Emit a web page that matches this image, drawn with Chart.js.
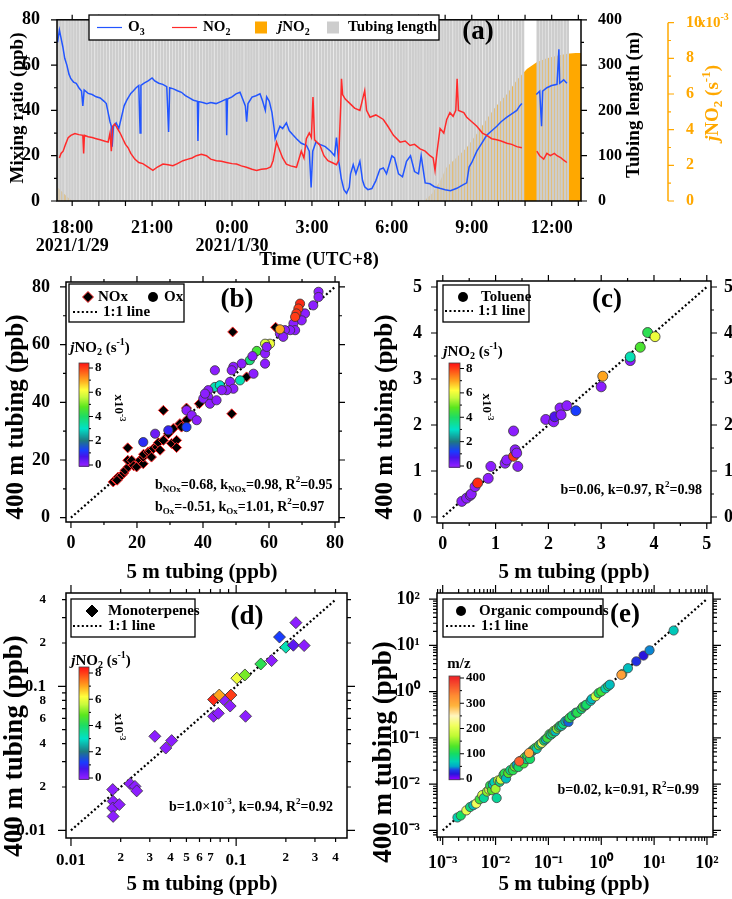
<!DOCTYPE html>
<html><head><meta charset="utf-8">
<script src="https://cdn.jsdelivr.net/npm/chart.js@4.4.1/dist/chart.umd.min.js"></script>
<style>
html,body{margin:0;padding:0;background:#fff;}
#wrap{position:relative;width:732px;height:899px;overflow:hidden;background:#fff;}
#wrap canvas{position:absolute;left:0;top:0;}
</style></head><body>
<div id="wrap">
<canvas id="pa" width="732" height="899"></canvas>
<canvas id="pb" width="732" height="899"></canvas>
<canvas id="pc" width="732" height="899"></canvas>
<canvas id="pd" width="732" height="899"></canvas>
<canvas id="pe" width="732" height="899"></canvas>
</div>
<script>
// ================= DATA =================
// Panel (a): time in hours from 0:00 on 2021/1/29 (24 = 0:00 on 1/30)
const hourTicks = [18,19,20,21,22,23,24,25,26,27,28,29,30,31,32,33,34,35,36,37];
const timeTicks = [18,21,24,27,30,33,36];
const timeLabels = [['18:00','2021/1/29'],'21:00',['0:00','2021/1/30'],'3:00','6:00','9:00','12:00'];
const o3Data = [[17.45,70],[17.52,75.5],[17.58,72],[17.65,68],[17.72,63],[17.80,60],[17.88,56],[17.95,54],[18.05,52.5],[18.15,52],
[18.25,50],[18.35,48.5],[18.40,42],[18.45,49],[18.60,47.5],[18.75,47],[18.90,46],[19.05,45.5],[19.20,44],[19.28,43],
[19.35,39],[19.42,35],[19.47,33],[19.50,24],[19.55,33],[19.65,34.5],[19.75,32],[19.85,37],[19.95,42],[20.05,44.5],
[20.20,47.5],[20.30,48.7],[20.40,50],[20.50,51],[20.55,30],[20.58,51],[20.70,52],[20.85,53],[21.00,54.3],[21.10,53],
[21.25,52],[21.40,51.5],[21.55,50.5],[21.62,30.5],[21.66,50],[21.80,49.5],[21.95,48.7],[22.10,48],[22.25,46.5],[22.40,45.5],
[22.55,44.5],[22.70,44],[22.72,26.5],[22.75,43.9],[22.90,43.5],[23.05,43],[23.20,43.5],[23.40,43],[23.60,44],[23.78,45],
[23.80,29],[23.83,45],[24.00,46],[24.15,47.3],[24.30,48],[24.40,45],[24.50,42],[24.55,35],[24.60,43],[24.75,45.9],
[24.90,46.5],[25.05,47.3],[25.15,44],[25.25,40],[25.30,46],[25.40,44],[25.50,39],[25.58,32],[25.62,27.5],[25.70,30],
[25.80,33],[25.90,32],[26.04,34.5],[26.15,31],[26.30,29],[26.42,27.5],[26.60,25.5],[26.79,24.6],[26.90,22],[26.97,6],
[27.03,22],[27.15,26],[27.30,25],[27.50,24],[27.70,22],[27.85,20],[27.92,28],[28.00,18],[28.10,10],[28.20,5],
[28.30,3.4],[28.40,6],[28.45,12],[28.55,16],[28.65,12],[28.80,17.5],[28.90,9],[28.98,6.3],[29.10,5],[29.25,5.5],
[29.40,9],[29.55,14],[29.68,14.6],[29.80,12],[30.00,20],[30.10,19],[30.25,12],[30.40,10.7],[30.55,17.5],[30.70,20],
[30.85,13],[31.00,12],[31.10,20],[31.25,8],[31.43,7.6],[31.60,6.3],[31.80,5.6],[32.00,5],[32.20,4.5],[32.44,5.6],
[32.65,7],[32.81,8],[32.90,15],[33.00,17],[33.19,22],[33.35,25],[33.56,29],[33.75,31],[33.94,33],[34.10,35],
[34.32,37],[34.50,38.5],[34.69,40],[34.80,42],[34.88,43],[35.10,null],[35.42,47],[35.55,48.5],[35.62,33],[35.66,48.5],
[35.82,50],[36.00,51],[36.20,51.5],[36.27,67],[36.30,52],[36.45,53.5],[36.57,52]];
const no2Data = [[17.52,19],[17.58,21],[17.66,22],[17.75,25],[17.85,28],[17.95,29],[18.10,29.8],[18.25,29.3],[18.40,29],[18.43,21],
[18.46,29],[18.60,28.4],[18.75,28],[18.90,27.5],[19.05,27],[19.20,26.5],[19.35,26],[19.42,30],[19.47,22],[19.52,33],
[19.60,34],[19.70,32],[19.80,30],[19.90,27.5],[20.00,25],[20.10,23.5],[20.20,21],[20.35,18.5],[20.50,17],[20.65,16.5],
[20.85,15],[21.03,13.5],[21.20,15],[21.41,16.3],[21.60,16],[21.78,15.6],[21.95,16.5],[22.16,17.8],[22.35,18.5],[22.50,19],
[22.66,20],[22.85,20.6],[23.04,20],[23.20,18.5],[23.41,17.8],[23.60,17.5],[23.79,17],[24.00,16.5],[24.17,16.3],[24.35,15.5],
[24.54,14.9],[24.75,14],[24.92,13.5],[25.10,14],[25.29,14.2],[25.45,15],[25.54,17.8],[25.67,26],[25.75,23.5],[25.90,19],
[26.04,16.3],[26.20,15.5],[26.42,14.9],[26.55,20],[26.60,22],[26.70,19],[26.79,27.5],[26.90,30],[26.98,28],[27.04,45.9],
[27.10,27],[27.30,24.6],[27.45,20],[27.60,17.8],[27.75,17],[27.92,16],[28.00,18],[28.08,42],[28.11,54],[28.15,47],
[28.25,45],[28.43,43],[28.60,41],[28.80,40],[28.98,48.7],[29.05,40],[29.18,37],[29.40,38],[29.68,36],[29.85,33],
[30.06,29],[30.31,26],[30.50,26.5],[30.68,24.5],[30.85,25],[31.06,23],[31.25,22],[31.43,20],[31.55,19],[31.62,13.5],
[31.70,22],[31.81,32],[31.95,30],[32.06,36],[32.18,39],[32.30,37.4],[32.40,40],[32.45,54],[32.50,40],[32.70,39],
[32.81,37],[33.00,35],[33.19,33],[33.40,30],[33.56,29],[33.75,27.5],[33.94,27],[34.10,26.5],[34.32,25.5],[34.50,25],
[34.69,24],[34.88,23.5],[35.10,null],[35.44,22],[35.55,20],[35.70,18.5],[35.82,21],[35.95,20],[36.10,21],[36.20,20],
[36.35,19],[36.45,18],[36.57,17]];
// jNO2 in units of 1e-3 s^-1
const jNO2Data = [[17.43,0.8],[17.6,0.55],[17.8,0.25],[18.0,0],[31.2,0],[31.5,0.4],[31.8,1.1],[32.06,1.9],[32.4,2.4],[32.81,3.0],
[33.2,3.8],[33.56,4.6],[33.9,5.3],[34.32,6.0],[34.7,6.8],[35.07,7.4],[35.45,7.8],[35.82,8.0],[36.2,8.15],[36.57,8.25],[36.9,8.3],[37.1,8.3]];
// start times of the 400 m tubing sampling periods
const tubingTime = [17.45,17.56,17.67,17.79,17.90,18.01,18.12,18.23,18.35,18.46,18.57,18.68,18.79,18.91,19.02,19.13,19.24,19.35,19.47,19.58,
19.69,19.80,19.91,20.03,20.14,20.25,20.36,20.47,20.59,20.70,20.81,20.92,21.03,21.15,21.26,21.37,21.48,21.59,21.71,21.82,
21.93,22.04,22.15,22.27,22.38,22.49,22.60,22.71,22.83,22.94,23.05,23.16,23.27,23.39,23.50,23.61,23.72,23.83,23.95,24.06,
24.17,24.28,24.39,24.51,24.62,24.73,24.84,24.95,25.07,25.18,25.29,25.40,25.51,25.63,25.74,25.85,25.96,26.07,26.19,26.30,
26.41,26.52,26.63,26.75,26.86,26.97,27.08,27.19,27.31,27.42,27.53,27.64,27.75,27.87,27.98,28.09,28.20,28.31,28.43,28.54,
28.65,28.76,28.87,28.99,29.10,29.21,29.32,29.43,29.55,29.66,29.77,29.88,29.99,30.11,30.22,30.33,30.44,30.55,30.67,30.78,
30.89,31.00,31.11,31.23,31.34,31.45,31.56,31.67,31.79,31.90,32.01,32.12,32.23,32.35,32.46,32.57,32.68,32.79,32.91,33.02,
33.13,33.24,33.35,33.47,33.58,33.69,33.80,33.91,34.03,34.14,34.25,34.36,34.47,34.59,34.70,34.81,34.92,35.48,35.59,35.70,
35.81,35.93,36.04,36.15,36.26,36.37,36.49,36.60];
const tubingLength = 400;

// Panel (b): [5 m, 400 m] ppb ; Ox also jNO2 (1e-3 s^-1)
const noxData = [[12.8,12.4],[13.5,13.2],[14.3,14.1],[14,13],[15.4,14.7],[16,15.5],[16.4,16.4],[17.4,17.6],[18.4,18.7],[17.2,19.9],
[18.4,19.9],[17.2,24.2],[19,18],[19.9,17.6],[20.9,19.9],[21.9,18.7],[21.9,21],[22,22],[23.4,22.8],[24,23],[24.4,21],[25,24],
[26,24.5],[26.5,26],[27,23.4],[28,26.8],[28,37.2],[29.5,29.1],[30.5,25.7],[31,30.9],[32,26.8],[32,24.3],[33,32.6],[33.5,31.4],
[35,33.8],[35,38],[38.9,39.5],[48.7,36],[49,64.4],[53.2,48.8],[62,66]];
const oxData = [[75,78.3,0],[75,76.5,0],[73.4,73.6,0],[70.9,70.8,0],[69.9,68.4,0],[67.4,67.3,0],[67.9,65,0],[66.4,65,0],[64.8,65,0],
[63.3,63.8,0],[64.3,62.7,0],[69.4,74.2,8.2],[68.9,72.5,8.0],[68.3,70.8,8.1],[67.9,69.6,8.0],[63.3,65.3,7.0],[60.3,60.3,6.0],
[58.8,60.3,5.8],[56.3,57.8,4.5],[54.2,54.6,3.8],[55.3,49.9,0],[58.8,53.4,0],[58.8,56.9,0],[59.3,59.2,0],[55,56,0],[51.7,53.4,0],
[49.2,52.3,0],[48.7,51.1,0],[48.2,47.1,0],[49.2,44.7,0],[43.6,51.1,0],[51.2,47.6,3.2],[43.6,45.3,3.2],[45.1,45.9,3.0],[47.2,44.2,0],
[45.7,44.2,0],[41.6,44.2,0],[41.6,41.8,0],[40.1,41.3,0],[42.1,39.5,0],[44.1,40.7,0],[40.6,43,0],[35,37.2,0],[36.6,35.5,0],
[38.1,33.8,0],[35,31.4,1.2],[29.5,30.3,0.9],[25.5,29.1,0.3],[21.9,26.2,1.0]];
// Panel (c): toluene [5 m, 400 m, jNO2]
const tolueneData = [[0.36,0.34,0],[0.45,0.41,0],[0.52,0.47,0],[0.54,0.50,0],[0.61,0.66,0],[0.66,0.74,8.2],[0.86,0.84,0],[0.91,1.1,0],
[1.18,1.17,0],[1.21,1.24,0],[1.34,1.32,8.1],[1.37,1.46,0],[1.40,1.39,0],[1.34,1.87,0],[1.42,1.10,0],[1.95,2.12,0],[2.10,2.07,0],
[2.12,2.18,0.6],[2.22,2.37,0],[2.24,2.22,0],[2.35,2.42,0],[2.52,2.31,1.2],[3.0,2.83,0],[3.03,3.06,7.0],[3.55,3.40,0],[3.55,3.48,3.2],
[3.74,3.69,4.6],[3.88,4.01,4.2],[4.02,3.92,6.0]];
// Panel (d): monoterpenes [5 m, 400 m, jNO2]
const monoData = [[0.0179,0.0192,0],[0.018,0.0159,0],[0.0179,0.0143,0],[0.018,0.0125,0],[0.0196,0.0151,0],[0.0228,0.0211,0],
[0.0244,0.0202,0],[0.025,0.0188,0],[0.0322,0.045,0],[0.0375,0.0373,0],[0.0407,0.042,0],[0.073,0.062,0],[0.078,0.065,0],
[0.084,0.081,0],[0.092,0.073,0],[0.114,0.062,0],[0.073,0.081,8.2],[0.079,0.087,7.0],[0.093,0.087,8.0],[0.101,0.114,6.0],
[0.113,0.120,5.0],[0.141,0.143,4.2],[0.164,0.151,0],[0.183,0.22,1.2],[0.20,0.187,3.2],[0.222,0.193,0.5],[0.23,0.277,0],[0.258,0.192,0]];
// Panel (e): organic compounds [5 m, 400 m, m/z]
const organicData = [[0.0019,0.0019,70],[0.0022,0.0021,100],[0.0028,0.0027,200],[0.0033,0.0032,90],[0.0038,0.0035,60],[0.0043,0.0038,210],
[0.0050,0.0047,120],[0.0056,0.0058,190],[0.0060,0.0050,80],[0.0069,0.0069,150],[0.0076,0.0076,200],[0.0079,0.0093,110],[0.0085,0.0074,130],
[0.0089,0.0098,60],[0.0095,0.011,70],[0.010,0.0079,160],[0.0105,0.0050,80],[0.0112,0.012,170],[0.012,0.0112,90],[0.0126,0.0126,180],
[0.0141,0.0158,100],[0.0148,0.017,110],[0.0158,0.0132,60],[0.0174,0.0174,130],[0.019,0.020,90],[0.0214,0.020,110],[0.023,0.024,140],
[0.025,0.026,50],[0.027,0.0234,100],[0.030,0.032,90],[0.032,0.033,70],[0.034,0.028,120],[0.036,0.038,150],[0.038,0.035,80],
[0.040,0.042,110],[0.045,0.035,100],[0.048,0.050,60],[0.050,0.054,100],[0.054,0.056,130],[0.056,0.060,110],[0.060,0.058,70],
[0.066,0.069,140],[0.071,0.074,90],[0.076,0.078,210],[0.083,0.087,100],[0.089,0.093,60],[0.095,0.10,120],[0.105,0.12,110],
[0.112,0.117,80],[0.12,0.126,100],[0.126,0.141,130],[0.135,0.138,60],[0.145,0.158,150],[0.158,0.17,110],[0.166,0.182,100],
[0.178,0.182,70],[0.19,0.20,90],[0.21,0.23,60],[0.23,0.24,50],[0.24,0.22,40],[0.25,0.27,110],[0.28,0.30,100],[0.33,0.35,60],
[0.35,0.35,110],[0.42,0.42,90],[0.45,0.47,120],[0.50,0.50,60],[0.52,0.52,100],[0.63,0.63,70],[0.66,0.69,60],[0.78,0.79,180],
[0.89,0.93,100],[1.0,1.0,120],[1.2,1.17,70],[1.35,1.32,90],[1.45,1.41,60],[2.5,2.4,110],[3.2,3.2,60],[4.6,4.5,30],[6.3,6.0,20],
[8.2,7.8,45],[23.4,20.9,65],[0.028,0.031,360],[0.043,0.047,300],[2.4,2.3,310]];
const oneToOneB = [0, 80], oneToOneC = [0, 5], oneToOneD = [0.01, 0.4], oneToOneE = [0.001, 100];

// ================= STYLE / HELPERS =================
const W = 732, H = 899;
const FONT = '"Liberation Serif","Times New Roman",Times,serif';
const ORANGE = '#ffa800';
const jStops = [[0,[140,30,255]],[0.7,[70,20,235]],[1.2,[25,60,255]],[2.0,[30,120,130]],[3.0,[0,225,200]],[4.0,[30,220,100]],
  [4.8,[90,230,30]],[5.6,[200,250,60]],[6.2,[255,255,60]],[7.0,[255,165,30]],[8.4,[255,20,20]]];
const mzStops = [[0,[140,0,255]],[20,[40,20,220]],[35,[30,60,230]],[50,[0,170,200]],[70,[0,210,180]],[100,[20,220,100]],
  [130,[80,230,40]],[170,[190,250,50]],[210,[240,255,90]],[250,[255,245,190]],[290,[255,180,60]],[330,[255,140,50]],[400,[240,40,40]]];
function cmap(stops, v) {
  const rgb = c => `rgb(${c.map(Math.round).join(',')})`;
  if (v <= stops[0][0]) return rgb(stops[0][1]);
  for (let i = 1; i < stops.length; i++) {
    if (v <= stops[i][0]) {
      const [a, ca] = stops[i-1], [b, cb] = stops[i]; const t = (v - a) / (b - a);
      return rgb(ca.map((c, k) => c + (cb[k] - c) * t));
    }
  }
  return rgb(stops[stops.length-1][1]);
}
function fnt(size, italic) { return `${italic ? 'italic ' : ''}bold ${size}px ${FONT}`; }
function rich(ctx, x, y, parts, size, align, color) {
  ctx.save();
  ctx.fillStyle = color || '#000'; ctx.textBaseline = 'middle'; ctx.textAlign = 'left';
  const segs = parts.map(p => {
    const a = typeof p === 'string' ? [p, ''] : p; const m = a[1] || '';
    const small = m === 'sub' || m === 'sup';
    const font = fnt(small ? Math.round(size * 0.66) : size, m === 'i');
    ctx.font = font;
    const dy = m === 'sub' ? size * 0.3 : m === 'sup' ? -size * 0.36 : 0;
    return { t: a[0], font, dy, w: ctx.measureText(a[0]).width };
  });
  const total = segs.reduce((s, g) => s + g.w, 0);
  let cx = align === 'center' ? x - total / 2 : align === 'right' ? x - total : x;
  for (const g of segs) { ctx.font = g.font; ctx.fillText(g.t, cx, y + g.dy); cx += g.w; }
  ctx.restore();
  return total;
}
function richRot(ctx, x, y, ang, parts, size, color) {
  ctx.save(); ctx.translate(x, y); ctx.rotate(ang); rich(ctx, 0, 0, parts, size, 'center', color); ctx.restore();
}
function ticksOn(ctx, scale, vals, len, side, pos) {
  ctx.beginPath();
  for (const v of vals) {
    const p = scale.getPixelForValue(v);
    if (side === 'left') { ctx.moveTo(pos, p); ctx.lineTo(pos - len, p); }
    else if (side === 'right') { ctx.moveTo(pos, p); ctx.lineTo(pos + len, p); }
    else if (side === 'top') { ctx.moveTo(p, pos); ctx.lineTo(p, pos - len); }
    else { ctx.moveTo(p, pos); ctx.lineTo(p, pos + len); }
  }
  ctx.stroke();
}
function diamond(ctx, x, y, r, fill, stroke) {
  ctx.beginPath(); ctx.moveTo(x - r, y); ctx.lineTo(x, y - r); ctx.lineTo(x + r, y); ctx.lineTo(x, y + r); ctx.closePath();
  ctx.fillStyle = fill; ctx.fill(); ctx.lineWidth = 1; ctx.strokeStyle = stroke; ctx.stroke();
}
function dot(ctx, x, y, r) { ctx.beginPath(); ctx.arc(x, y, r, 0, Math.PI * 2); ctx.fillStyle = '#000'; ctx.fill(); }
function dotted(ctx, x0, x1, y) {
  ctx.save(); ctx.setLineDash([2, 2.4]); ctx.lineWidth = 2.2; ctx.strokeStyle = '#000';
  ctx.beginPath(); ctx.moveTo(x0, y); ctx.lineTo(x1, y); ctx.stroke(); ctx.restore();
}
function legendBox(ctx, x, y, w, h) { ctx.save(); ctx.lineWidth = 1.3; ctx.strokeStyle = '#000'; ctx.strokeRect(x, y, w, h); ctx.restore(); }
function colorbar(ctx, cb, stops) {
  const py = v => cb.p0 + (v - cb.v0) * (cb.p1 - cb.p0) / (cb.v1 - cb.v0);
  const yTop = py(cb.hi), yBot = py(cb.lo);
  for (let y = Math.floor(yTop); y < yBot; y++) {
    const v = cb.v0 + (y + 0.5 - cb.p0) * (cb.v1 - cb.v0) / (cb.p1 - cb.p0);
    ctx.fillStyle = cmap(stops, v); ctx.fillRect(cb.x0, y, cb.x1 - cb.x0, 1);
  }
  ctx.save();
  ctx.strokeStyle = '#444'; ctx.lineWidth = 0.8; ctx.strokeRect(cb.x0, Math.floor(yTop), cb.x1 - cb.x0, yBot - Math.floor(yTop));
  ctx.strokeStyle = '#000'; ctx.lineWidth = 1;
  ctx.beginPath();
  for (const v of cb.major) { ctx.moveTo(cb.x1, py(v)); ctx.lineTo(cb.x1 + 4, py(v)); }
  for (const v of cb.minor) { ctx.moveTo(cb.x1, py(v)); ctx.lineTo(cb.x1 + 2, py(v)); }
  ctx.stroke();
  for (const v of cb.major) rich(ctx, cb.x1 + 6, py(v), [String(v)], 13, 'left');
  ctx.restore();
}
function jTitle() { return [['j','i'],'NO',['2','sub'],' (s',['-1','sup'],')']; }

// ================= PANEL (a) =================
(function () {
  const L = 57, T = 11, R = 581, B = 201;
  const deco = {
    id: 'decoA',
    afterDraw(chart) {
      const ctx = chart.ctx, a = chart.chartArea, s = chart.scales;
      ctx.save();
      ctx.strokeStyle = '#000'; ctx.lineWidth = 1.5;
      ctx.strokeRect(a.left, a.top, a.right - a.left, a.bottom - a.top);
      ctx.lineWidth = 1.2;
      ticksOn(ctx, s.y, [0,20,40,60,80], 6, 'left', a.left);
      ticksOn(ctx, s.y, [10,30,50,70], 3, 'left', a.left);
      ticksOn(ctx, s.yT, [0,100,200,300,400], 6, 'right', a.right);
      ticksOn(ctx, s.yT, [50,150,250,350], 3, 'right', a.right);
      ticksOn(ctx, s.x, hourTicks, 5, 'top', a.top);
      ticksOn(ctx, s.x, hourTicks, 5, 'bottom', a.bottom);
      // jNO2 axis
      const xj = s.yJ.left;
      ctx.strokeStyle = ORANGE; ctx.lineWidth = 1.5;
      ctx.beginPath(); ctx.moveTo(xj, s.yJ.getPixelForValue(0)); ctx.lineTo(xj, s.yJ.getPixelForValue(10)); ctx.stroke();
      ctx.lineWidth = 1.2;
      ticksOn(ctx, s.yJ, [0,2,4,6,8,10], 6, 'right', xj);
      ticksOn(ctx, s.yJ, [1,3,5,7,9], 3, 'right', xj);
      rich(ctx, xj + 30, s.yJ.getPixelForValue(10), ['x10',['-3','sup']], 15, 'left', ORANGE);
      // legend
      ctx.fillStyle = '#fff'; ctx.fillRect(89, 15, 350, 25);
      legendBox(ctx, 89, 15, 350, 25);
      const ly = 27.5;
      ctx.lineWidth = 1.2;
      ctx.strokeStyle = '#2255ff'; ctx.beginPath(); ctx.moveTo(97, ly); ctx.lineTo(122, ly); ctx.stroke();
      rich(ctx, 128, ly, ['O',['3','sub']], 15, 'left');
      ctx.strokeStyle = '#ff2a2a'; ctx.beginPath(); ctx.moveTo(172, ly); ctx.lineTo(197, ly); ctx.stroke();
      rich(ctx, 203, ly, ['NO',['2','sub']], 15, 'left');
      ctx.fillStyle = ORANGE; ctx.fillRect(255, ly - 6, 12, 12);
      rich(ctx, 278, ly, [['j','i'],'NO',['2','sub']], 15, 'left');
      ctx.fillStyle = '#cdcdcd'; ctx.fillRect(327, ly - 6, 12, 12);
      rich(ctx, 348, ly, ['Tubing length'], 15, 'left');
      // letter & titles
      rich(ctx, 478, 32, ['(a)'], 27, 'center');
      richRot(ctx, 18, 108, -Math.PI / 2, ['Mixing ratio (ppb)'], 19);
      richRot(ctx, 634, 105, -Math.PI / 2, ['Tubing length (m)'], 19);
      richRot(ctx, 713, 103, -Math.PI / 2, jTitle(), 19, ORANGE);
      rich(ctx, 319, 260, ['Time (UTC+8)'], 19, 'center');
      ctx.restore();
    }
  };
  const pts = arr => arr.map(p => ({ x: p[0], y: p[1] }));
  new Chart(document.getElementById('pa'), {
    type: 'line',
    data: { datasets: [
      { label: 'NO2', data: pts(no2Data), borderColor: '#ff2a2a', borderWidth: 1.5, pointRadius: 0, yAxisID: 'y', order: 0, spanGaps: false, tension: 0 },
      { label: 'O3', data: pts(o3Data), borderColor: '#2255ff', borderWidth: 1.5, pointRadius: 0, yAxisID: 'y', order: 1, spanGaps: false, tension: 0 },
      { type: 'bar', label: 'Tubing length', data: tubingTime.map(t => ({ x: t, y: tubingLength })), backgroundColor: '#cdcdcd', barThickness: 2, yAxisID: 'yT', order: 2 },
      { label: 'jNO2', data: pts(jNO2Data), borderWidth: 0, borderColor: ORANGE, backgroundColor: ORANGE, fill: 'origin', pointRadius: 0, yAxisID: 'yJ', order: 3, tension: 0 }
    ] },
    options: {
      responsive: false, animation: false, devicePixelRatio: 1, events: [],
      layout: { padding: { top: T, left: 0, right: 0, bottom: 0 }, autoPadding: false },
      plugins: { legend: { display: false }, tooltip: { enabled: false } },
      scales: {
        x: { type: 'linear', min: 17.43, max: 37.1, position: 'bottom', offset: false,
          grid: { display: false }, border: { display: false },
          ticks: { autoSkip: false, maxRotation: 0, padding: 10, color: '#000', font: { family: FONT, size: 18, weight: 'bold', lineHeight: 1.0 }, callback: (v, i) => timeLabels[i] },
          afterBuildTicks: s => { s.ticks = timeTicks.map(v => ({ value: v })); },
          afterFit: s => { s.height = H - B; } },
        y: { min: 0, max: 80, position: 'left', grid: { display: false }, border: { display: false },
          ticks: { padding: 9, color: '#000', font: { family: FONT, size: 18, weight: 'bold' } },
          afterBuildTicks: s => { s.ticks = [0,20,40,60,80].map(v => ({ value: v })); },
          afterFit: s => { s.width = L; } },
        yT: { min: 0, max: 400, position: 'right', weight: 0, grid: { display: false }, border: { display: false },
          ticks: { padding: 9, color: '#000', font: { family: FONT, size: 16, weight: 'bold' } },
          afterBuildTicks: s => { s.ticks = [0,100,200,300,400].map(v => ({ value: v })); },
          afterFit: s => { s.width = 668 - R; } },
        yJ: { min: 0, max: 10.16, position: 'right', weight: 1, grid: { display: false }, border: { display: false },
          ticks: { padding: 10, color: ORANGE, font: { family: FONT, size: 16, weight: 'bold' } },
          afterBuildTicks: s => { s.ticks = [0,2,4,6,8,10].map(v => ({ value: v })); },
          afterFit: s => { s.width = W - 668; } }
      }
    },
    plugins: [deco]
  });
})();

// ================= SCATTER PANELS =================
function axisCfg(ax, pos, size) {
  return {
    type: ax.type || 'linear', min: ax.min, max: ax.max, position: pos,
    grid: { display: false }, border: { display: false },
    ticks: { autoSkip: false, maxRotation: 0, minRotation: 0, padding: ax.pad, color: '#000',
      font: ax.font || { family: FONT, size: 18, weight: 'bold' }, callback: (v, i) => ax.labels[i] },
    afterBuildTicks: s => { s.ticks = ax.ticks.map(v => ({ value: v })); },
    afterFit: s => { if (pos === 'left' || pos === 'right') s.width = size; else s.height = size; }
  };
}
function makePanel(id, g, o) {
  const deco = {
    id: 'deco_' + id,
    afterDraw(chart) {
      const ctx = chart.ctx, a = chart.chartArea, sx = chart.scales.x, sy = chart.scales.y;
      ctx.save();
      ctx.strokeStyle = '#000'; ctx.lineWidth = 1.5;
      ctx.strokeRect(a.left, a.top, a.right - a.left, a.bottom - a.top);
      ctx.lineWidth = 1.2;
      for (const side of ['bottom', 'top']) {
        const pos = side === 'bottom' ? a.bottom : a.top;
        ticksOn(ctx, sx, o.x.major, o.majLen, side, pos); ticksOn(ctx, sx, o.x.minor, o.minLen, side, pos);
      }
      for (const side of ['left', 'right']) {
        const pos = side === 'left' ? a.left : a.right;
        ticksOn(ctx, sy, o.y.major, o.majLen, side, pos); ticksOn(ctx, sy, o.y.minor, o.minLen, side, pos);
      }
      o.deco(ctx, chart);
      ctx.restore();
    }
  };
  const scales = { x: axisCfg(o.x, 'bottom', H - g.B), y: axisCfg(o.y, 'left', g.L) };
  if (o.yRight) scales.yR = axisCfg(o.yRight, 'right', W - g.R);
  new Chart(document.getElementById(id), {
    type: 'scatter',
    data: { datasets: o.datasets },
    options: {
      responsive: false, animation: false, devicePixelRatio: 1, events: [],
      layout: { padding: { top: g.T, left: 0, bottom: 0, right: o.yRight ? 0 : W - g.R }, autoPadding: false },
      plugins: { legend: { display: false }, tooltip: { enabled: false } },
      scales
    },
    plugins: [deco]
  });
}
function lineDs(range) {
  return { type: 'line', data: range.map(v => ({ x: v, y: v })), borderColor: '#000', borderWidth: 2.2, borderDash: [2, 2.4],
    pointRadius: 0, fill: false, showLine: true, order: 5 };
}
function logMinor(decades, lo, hi) {
  const out = [];
  for (const d of decades) for (let k = 2; k <= 9; k++) { const v = d * k; if (v > lo && v < hi) out.push(v); }
  return out;
}
const jBar = (x0, x1, p0, p1) => ({ x0, x1, p0, v0: 0, p1, v1: 8, lo: -0.1, hi: 8.4, major: [0,2,4,6,8], minor: [1,3,5,7] });

// ----- (b)
makePanel('pb', { L: 66, T: 282, R: 339, B: 522 }, {
  majLen: 6, minLen: 3,
  x: { min: -1.5, max: 81.2, ticks: [0,20,40,60,80], labels: ['0','20','40','60','80'], pad: 3, major: [0,20,40,60,80], minor: [10,30,50,70] },
  y: { min: -1.5, max: 81.7, ticks: [0,20,40,60,80], labels: ['0','20','40','60','80'], pad: 8, major: [0,20,40,60,80], minor: [10,30,50,70] },
  datasets: [
    lineDs(oneToOneB),
    { label: 'NOx', data: noxData.map(p => ({ x: p[0], y: p[1] })), pointStyle: 'rectRot', pointRadius: 5, backgroundColor: '#000', borderColor: '#ff3030', borderWidth: 1, order: 1 },
    { label: 'Ox', data: oxData.map(p => ({ x: p[0], y: p[1] })), pointStyle: 'circle', pointRadius: 4.6, backgroundColor: oxData.map(p => cmap(jStops, p[2])), borderColor: '#333', borderWidth: 0.8, order: 0 }
  ],
  deco(ctx) {
    ctx.fillStyle = '#fff'; ctx.fillRect(69, 284, 115, 38);
    legendBox(ctx, 69, 284, 115, 38);
    diamond(ctx, 88, 297, 5.5, '#000', '#ff3030'); rich(ctx, 98, 297, ['NOx'], 15, 'left');
    dot(ctx, 153, 297, 5); rich(ctx, 164, 297, ['Ox'], 15, 'left');
    dotted(ctx, 73, 97, 312); rich(ctx, 103, 312, ['1:1 line'], 15, 'left');
    rich(ctx, 237, 300, ['(b)'], 27, 'center');
    colorbar(ctx, jBar(79, 89, 465, 368), jStops);
    rich(ctx, 100, 348, jTitle(), 15, 'center');
    richRot(ctx, 118, 408, Math.PI / 2, ['x10', ['-3', 'sup']], 13);
    rich(ctx, 155, 485, ['b',['NOx','sub'],'=0.68, k',['NOx','sub'],'=0.98, R',['2','sup'],'=0.95'], 14, 'left');
    rich(ctx, 155, 507, ['b',['Ox','sub'],'=-0.51, k',['Ox','sub'],'=1.01, R',['2','sup'],'=0.97'], 14, 'left');
    richRot(ctx, 17, 417, -Math.PI / 2, ['400 m tubing (ppb)'], 25);
    rich(ctx, 202, 573, ['5 m tubing (ppb)'], 21, 'center');
  }
});

// ----- (c)
makePanel('pc', { L: 437, T: 281, R: 711, B: 523 }, {
  majLen: 6, minLen: 3,
  x: { min: -0.11, max: 5.08, ticks: [0,1,2,3,4,5], labels: ['0','1','2','3','4','5'], pad: 3, major: [0,1,2,3,4,5], minor: [0.5,1.5,2.5,3.5,4.5] },
  y: { min: -0.13, max: 5.13, ticks: [0,1,2,3,4,5], labels: ['0','1','2','3','4','5'], pad: 7, major: [0,1,2,3,4,5], minor: [0.5,1.5,2.5,3.5,4.5] },
  yRight: { min: -0.13, max: 5.13, ticks: [0,1,2,3,4,5], labels: ['0','1','2','3','4','5'], pad: 5 },
  datasets: [
    lineDs(oneToOneC),
    { label: 'Toluene', data: tolueneData.map(p => ({ x: p[0], y: p[1] })), pointStyle: 'circle', pointRadius: 5, backgroundColor: tolueneData.map(p => cmap(jStops, p[2])), borderColor: '#333', borderWidth: 0.8, order: 0 }
  ],
  deco(ctx) {
    ctx.fillStyle = '#fff'; ctx.fillRect(443, 285, 86, 37);
    legendBox(ctx, 443, 285, 86, 37);
    dot(ctx, 463, 297, 5); rich(ctx, 481, 297, ['Toluene'], 15, 'left');
    dotted(ctx, 445, 473, 311); rich(ctx, 478, 311, ['1:1 line'], 15, 'left');
    rich(ctx, 607, 300, ['(c)'], 27, 'center');
    colorbar(ctx, jBar(449, 460, 466, 368.5), jStops);
    rich(ctx, 473, 352, jTitle(), 15, 'center');
    richRot(ctx, 486, 407, Math.PI / 2, ['x10', ['-3', 'sup']], 13);
    rich(ctx, 702, 490, ['b=0.06, k=0.97, R',['2','sup'],'=0.98'], 14, 'right');
    richRot(ctx, 386, 417, -Math.PI / 2, ['400 m tubing (ppb)'], 25);
    rich(ctx, 574, 573, ['5 m tubing (ppb)'], 21, 'center');
  }
});

// ----- (d)
const smallDecFont = () => (c) => {
  const v = c.tick ? c.tick.value : 0;
  const isDec = Math.abs(Math.log10(v) - Math.round(Math.log10(v))) < 1e-6;
  return { family: FONT, size: isDec ? 17 : 13, weight: 'bold' };
};
makePanel('pd', { L: 66, T: 593, R: 347, B: 838 }, {
  majLen: 8, minLen: 4,
  x: { type: 'logarithmic', min: 0.00933, max: 0.469, ticks: [0.01,0.02,0.03,0.04,0.05,0.06,0.07,0.1,0.2,0.3,0.4],
       labels: ['0.01','2','3','4','5','6','7','0.1','2','3','4'], pad: 4, font: smallDecFont(),
       major: [0.01, 0.1], minor: logMinor([0.01, 0.1], 0.00933, 0.469) },
  y: { type: 'logarithmic', min: 0.00885, max: 0.445, ticks: [0.01,0.02,0.04,0.06,0.08,0.1,0.2,0.4],
       labels: ['0.01','2','4','6','8','0.1','2','4'], pad: 12, font: smallDecFont(),
       major: [0.01, 0.1], minor: logMinor([0.01, 0.1], 0.00885, 0.445) },
  datasets: [
    lineDs(oneToOneD),
    { label: 'Monoterpenes', data: monoData.map(p => ({ x: p[0], y: p[1] })), pointStyle: 'rectRot', pointRadius: 6, backgroundColor: monoData.map(p => cmap(jStops, p[2])), borderColor: '#333', borderWidth: 0.8, order: 0 }
  ],
  deco(ctx) {
    ctx.fillStyle = '#fff'; ctx.fillRect(71, 599, 124, 38);
    legendBox(ctx, 71, 599, 124, 38);
    diamond(ctx, 92, 611, 6, '#000', '#000'); rich(ctx, 108, 611, ['Monoterpenes'], 15, 'left');
    dotted(ctx, 73, 102, 626); rich(ctx, 108, 626, ['1:1 line'], 15, 'left');
    rich(ctx, 247, 617, ['(d)'], 27, 'center');
    colorbar(ctx, jBar(79, 89, 778, 673), jStops);
    rich(ctx, 101, 661, jTitle(), 15, 'center');
    richRot(ctx, 118, 727, Math.PI / 2, ['x10', ['-3', 'sup']], 13);
    rich(ctx, 333, 807, ['b=1.0\u00d710',['-3','sup'],', k=0.94, R',['2','sup'],'=0.92'], 14, 'right');
    richRot(ctx, 15, 746, -Math.PI / 2, ['400 m tubing (ppb)'], 27);
    rich(ctx, 202, 885, ['5 m tubing (ppb)'], 21, 'center');
  }
});

// ----- (e)
const decadesE = [0.001, 0.01, 0.1, 1, 10, 100];
const decLabels = ['10\u207b\u00b3','10\u207b\u00b2','10\u207b\u00b9','10\u2070','10\u00b9','10\u00b2'];
makePanel('pe', { L: 437, T: 593, R: 713, B: 837 }, {
  majLen: 8, minLen: 4,
  x: { type: 'logarithmic', min: 0.00078, max: 130, ticks: decadesE, labels: decLabels, pad: 8,
       major: decadesE, minor: logMinor([0.0001, 0.001, 0.01, 0.1, 1, 10, 100], 0.00078, 130) },
  y: { type: 'logarithmic', min: 0.00072, max: 135, ticks: decadesE, labels: decLabels, pad: 9,
       major: decadesE, minor: logMinor([0.0001, 0.001, 0.01, 0.1, 1, 10, 100], 0.00072, 135) },
  datasets: [
    lineDs(oneToOneE),
    { label: 'Organic compounds', data: organicData.map(p => ({ x: p[0], y: p[1] })), pointStyle: 'circle', pointRadius: 4.6, backgroundColor: organicData.map(p => cmap(mzStops, p[2])), borderColor: '#444', borderWidth: 0.8, order: 0 }
  ],
  deco(ctx) {
    ctx.fillStyle = '#fff'; ctx.fillRect(443, 599, 160, 38);
    legendBox(ctx, 443, 599, 160, 38);
    dot(ctx, 461, 611, 5); rich(ctx, 479, 611, ['Organic compounds'], 15, 'left');
    dotted(ctx, 446, 476, 626); rich(ctx, 481, 626, ['1:1 line'], 15, 'left');
    rich(ctx, 625, 615, ['(e)'], 27, 'center');
    colorbar(ctx, { x0: 449, x1: 460, p0: 779, v0: 0, p1: 678, v1: 400, lo: -3, hi: 405, major: [0,100,200,300,400], minor: [50,150,250,350] }, mzStops);
    rich(ctx, 459, 664, ['m/z'], 15, 'center');
    rich(ctx, 699, 790, ['b=0.02, k=0.91, R',['2','sup'],'=0.99'], 14, 'right');
    richRot(ctx, 384, 752, -Math.PI / 2, ['400 m tubing (ppb)'], 27);
    rich(ctx, 574, 885, ['5 m tubing (ppb)'], 21, 'center');
  }
});
</script>
</body></html>
